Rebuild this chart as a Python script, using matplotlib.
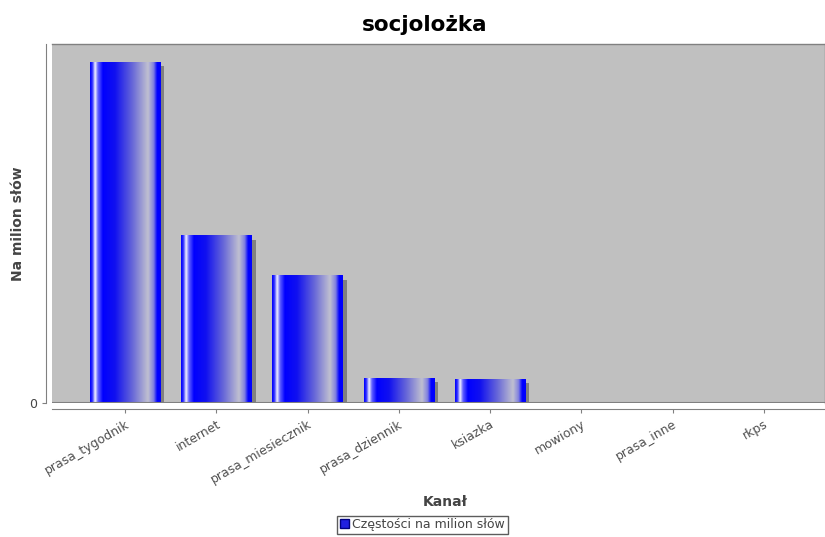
import numpy as np
import matplotlib
matplotlib.use("Agg")
import matplotlib.pyplot as plt
import matplotlib.patches as patches
from matplotlib.colors import LinearSegmentedColormap

kanaly = ['prasa_tygodnik', 'internet', 'prasa_miesiecznik', 'prasa_dziennik',
          'ksiazka', 'mowiony', 'prasa_inne', 'rkps']
czestosci = [341, 167, 127, 25, 24, 0, 0, 0]

# gradient "cylindra" jak w JFreeChart
grad = LinearSegmentedColormap.from_list('cyl', [
    (0.00, '#0000ff'), (0.03, '#3030ff'), (0.07, '#f4f4ff'), (0.11, '#6060ff'),
    (0.18, '#0000ff'), (0.35, '#1010f0'), (0.60, '#6868d8'), (0.82, '#c0c0d0'),
    (0.90, '#8080e0'), (0.95, '#0000ff'), (1.00, '#0000ff')])

fig = plt.figure(figsize=(8.25, 5.37), dpi=100)
ax = fig.add_axes([52/825, 1-403/537, 773/825, 359/537])
ax.set_facecolor('#c0c0c0')

szer = 0.77
x = np.arange(len(kanaly))

gr = np.linspace(0, 1, 300).reshape(1, -1)
for i, v in zip(x, czestosci):
    if v <= 0:
        continue
    # cien
    ax.add_patch(patches.Rectangle((i - szer/2 + 0.045, 0), szer, v - 4,
                                   facecolor='#808080', edgecolor='none', zorder=2))
    ax.imshow(gr, cmap=grad, aspect='auto', extent=(i - szer/2, i + szer/2, 0, v),
              zorder=3, interpolation='bilinear')
ax.set_xlim(-0.8, 7.67)
ax.set_ylim(0, 359)

for s in ['top', 'right']:
    ax.spines[s].set_color('#808080')
    ax.spines[s].set_linewidth(1)
ax.spines['left'].set_position(('outward', 4))
ax.spines['bottom'].set_position(('outward', 4))
ax.spines['left'].set_color('#808080')
ax.spines['bottom'].set_color('#808080')
ax.axhline(0, color='#808080', lw=1.5, zorder=4)

ax.set_yticks([0])
ax.set_yticklabels(['0'], fontsize=9, color='#444444')
ax.set_xticks(x)
ax.set_xticklabels(kanaly, rotation=30, ha='right', rotation_mode='anchor',
                   fontsize=9, color='#505050')
ax.tick_params(axis='both', length=3, color='#808080')

fig.text(445/825, 1-502/537, 'Kanał', fontsize=10, fontweight='bold', color='#444444',
         ha='center', va='center')
fig.text(18/825, 1-224/537, 'Na milion słów', fontsize=10, fontweight='bold', color='#444444',
         ha='center', va='center', rotation=90)
fig.text(425/825, 1-25/537, 'socjolożka', fontsize=15.5, fontweight='bold',
         ha='center', va='center')

h = patches.Patch(facecolor='#2020e0', edgecolor='#000080')
leg = fig.legend([h], ['Częstości na milion słów'], loc='center', bbox_to_anchor=(0.512, 0.023),
                 fontsize=9, frameon=True, fancybox=False, handlelength=0.7, handleheight=0.7,
                 handletextpad=0.3, borderpad=0.2, borderaxespad=0)
leg.get_frame().set_edgecolor('#333333')
leg.get_frame().set_linewidth(1)
for t in leg.get_texts():
    t.set_color('#444444')

fig.savefig('out.png', dpi=100)
